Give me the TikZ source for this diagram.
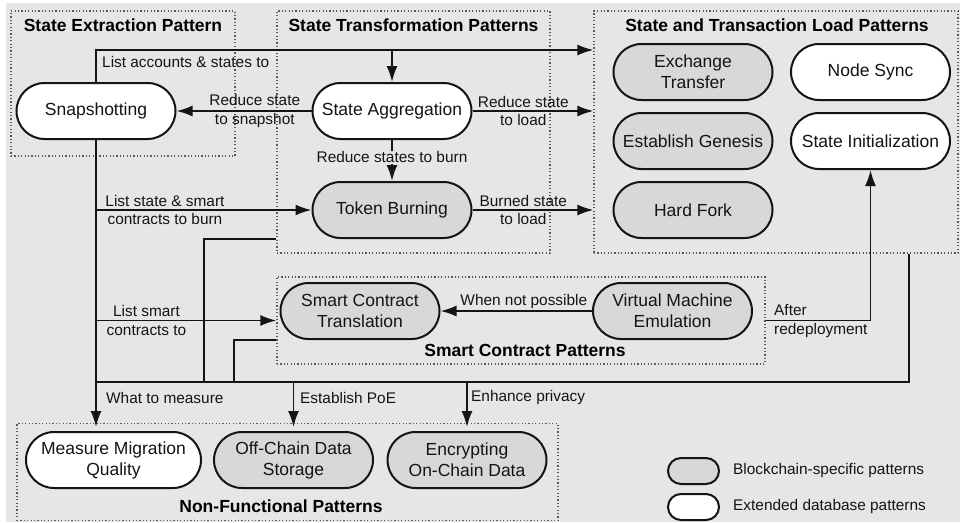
\documentclass[tikz,border=0pt]{standalone}
\usepackage{fontspec}
\setmainfont{Liberation Sans}
\usetikzlibrary{arrows.meta}
\definecolor{bgcol}{HTML}{E6E6E6}
\definecolor{chainfill}{HTML}{D8D8D8}
\definecolor{linecol}{HTML}{141414}

\begin{document}
\begin{tikzpicture}[x=1pt, y=-1pt, >={Latex[length=16pt,width=11pt]},
    stadium/.style={draw=linecol, line width=2pt, rounded corners=28pt, minimum width=159pt, minimum height=56pt,
        inner sep=0pt, align=center, text=linecol, font=\fontsize{17.5}{21}\selectfont},
    chainnode/.style={stadium, fill=chainfill},
    dbnode/.style={stadium, fill=white},
    patgroup/.style={draw=gray!70!black, line width=1.2pt, dash pattern=on 1.2pt off 2.2pt, inner sep=0pt},
    grouptitle/.style={text=black, font=\bfseries\fontsize{17.5}{21}\selectfont},
    lbl/.style={inner sep=1pt, align=center, text=linecol, font=\fontsize{15.4}{18.5}\selectfont},
    conn/.style={draw=linecol, line width=1.9pt}]
    \useasboundingbox (0,0) rectangle (960,522);
    \fill[bgcol] (6,3) rectangle (960,522);

    % Pattern groups
    \node[patgroup, minimum width=224pt, minimum height=145pt] (gext) at (123,83.5) {};
    \node[patgroup, minimum width=273pt, minimum height=242pt] (gtrans) at (413.5,132) {};
    \node[patgroup, minimum width=364pt, minimum height=242pt] (gload) at (776,132) {};
    \node[patgroup, minimum width=488pt, minimum height=87pt] (gsc) at (521,320.5) {};
    \node[patgroup, minimum width=541pt, minimum height=97pt] (gnf) at (287.5,472) {};

    \node[grouptitle] (text) at (123,25) {State Extraction Pattern};
    \node[grouptitle] (ttrans) at (413.5,25) {State Transformation Patterns};
    \node[grouptitle] (tload) at (777,25) {State and Transaction Load Patterns};
    \node[grouptitle] (tsc) at (525,350) {Smart Contract Patterns};
    \node[grouptitle] (tnf) at (281,506) {Non-Functional Patterns};

    % Patterns
    \node[dbnode] (snap) at (96,111) {Snapshotting};
    \node[dbnode] (agg) at (392,111) {State Aggregation};
    \node[chainnode] (burn) at (392,210) {Token Burning};
    \node[chainnode] (exch) at (693,72) {Exchange\\Transfer};
    \node[dbnode] (sync) at (870.5,72) {Node Sync};
    \node[chainnode] (genesis) at (693,141) {Establish Genesis};
    \node[dbnode] (init) at (870.5,141) {State Initialization};
    \node[chainnode] (fork) at (693,210) {Hard Fork};
    \node[chainnode] (sct) at (360,311) {Smart Contract\\Translation};
    \node[chainnode] (vme) at (672.5,311) {Virtual Machine\\Emulation};
    \node[dbnode, minimum width=175pt] (mmq) at (113.5,460) {Measure Migration\\Quality};
    \node[chainnode] (ocds) at (293.5,460) {Off-Chain Data\\Storage};
    \node[chainnode] (enc) at (467,460) {Encrypting\\On-Chain Data};

    % Helper points
    \coordinate (topy) at (0,50);
    \coordinate (busL) at (96,382);
    \coordinate (busR) at (909,382);
    \coordinate (jt) at (204,382);
    \coordinate (js) at (234,382);

    % Connectors
    \draw[conn,->] (snap.north) |- (gload.west |- topy);
    \draw[conn,->] (agg.north |- topy) -- (agg.north);
    \node[lbl, anchor=west] (laccounts) at (101,62) {List accounts \& states to};
    \draw[conn,->] (agg.west) -- (snap.east) node[lbl, pos=0.42] (lsnap) {Reduce state\\to snapshot};
    \draw[conn,->] (agg.east) -- (gload.west |- agg.east) node[lbl, pos=0.42] (lload) {Reduce state\\to load};
    \draw[conn,->] (agg.south) -- (burn.north) node[lbl, pos=0.42, fill=bgcol] (lburn) {Reduce states to burn};
    \draw[conn,->] (snap.south |- burn.west) -- (burn.west) node[lbl, pos=0.32] (lsmart) {List state \& smart\\contracts to burn};
    \draw[conn,->] (burn.east) -- (gload.west |- burn.east) node[lbl, pos=0.42] (lburned) {Burned state\\to load};
    \draw[conn,->] (snap.south |- gsc.west) -- (gsc.west) node[lbl, pos=0.28] (lcontracts) {List smart\\contracts to};
    \draw[conn,->] (vme.west) -- (sct.east) node[lbl, pos=0.45, above] (lnot) {When not possible};
    \draw[conn,->] (gsc.east) -| (init.south);
    \node[lbl, anchor=west, align=left] (lafter) at (773,321) {After\\redeployment};

    % Non-functional bus
    \draw[conn,->,shorten >=4pt] (snap.south) -- (snap.south |- mmq.north);
    \draw[conn] (gtrans.west |- burn.south) -| (jt);
    \draw[conn] (gsc.west |- sct.south) -| (js);
    \draw[conn] (gload.south -| busR) -- (busR) -- (busL);
    \draw[conn,->,shorten >=4pt] (ocds.north |- busL) -- (ocds.north);
    \draw[conn,->,shorten >=4pt] (enc.north |- busL) -- (enc.north);
    \node[lbl, anchor=west] (lmeasure) at (105,398) {What to measure};
    \node[lbl, anchor=west] (lpoe) at (299,398) {Establish PoE};
    \node[lbl, anchor=west] (lpriv) at (470,398) {Enhance privacy};

    % Legend
    \node[chainnode, minimum width=51pt, minimum height=26pt, rounded corners=13pt] (legchain) at (693.5,471) {};
    \node[dbnode, minimum width=51pt, minimum height=26pt, rounded corners=13pt] (legdb) at (693.5,507) {};
    \node[lbl, anchor=west] (lchain) at (732,471) {Blockchain-specific patterns};
    \node[lbl, anchor=west] (ldb) at (732,507) {Extended database patterns};
\end{tikzpicture}
\end{document}
